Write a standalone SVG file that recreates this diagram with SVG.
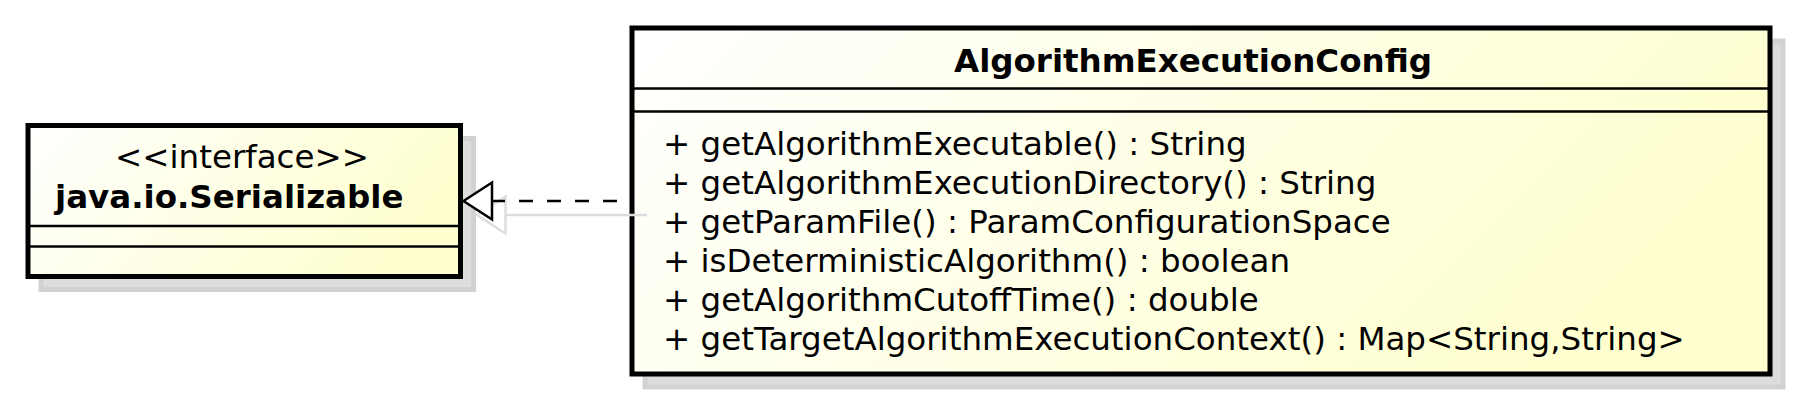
<svg xmlns="http://www.w3.org/2000/svg" width="1797" height="402" viewBox="0 0 1797 402">
<style>
  .shadow { fill: #dddddd; stroke: #d2d2d2; stroke-width: 5; }
  .box { fill: url(#bg); stroke: #000; stroke-width: 5; }
  .sep { stroke: #000; stroke-width: 2.5; }
  text { font-family: "DejaVu Sans", "Liberation Sans", sans-serif; font-size: 32.5px; fill: #000; }
  .bold { font-weight: bold; }
  .mid { text-anchor: middle; }
  .dash { stroke: #000; stroke-width: 2.5; stroke-dasharray: 14 14; stroke-dashoffset: 14; fill: none; }
  .cshadow { stroke: #dddddd; stroke-width: 2.5; fill: none; }
</style>
<defs>
  <linearGradient id="bg" x1="0" y1="0" x2="1" y2="0.3">
    <stop offset="0" stop-color="#ffffff"/>
    <stop offset="1" stop-color="#ffffd0"/>
  </linearGradient>
</defs>
<rect width="1797" height="402" fill="#ffffff"/>
<g id="node-serializable">
  <rect class="shadow" x="41" y="138.5" width="432.5" height="151"/>
  <rect class="box" x="28" y="125.5" width="432.5" height="151"/>
  <text class="mid" x="242" y="168">&lt;&lt;interface&gt;&gt;</text>
  <text class="bold" x="55" y="208">java.io.Serializable</text>
  <line class="sep" x1="28" y1="226" x2="460.5" y2="226"/>
  <line class="sep" x1="28" y1="246.5" x2="460.5" y2="246.5"/>
</g>
<g id="node-algorithmexecutionconfig">
  <rect class="shadow" x="645" y="41" width="1138" height="346"/>
  <rect class="box" x="632" y="28" width="1138" height="346"/>
  <text class="bold mid" x="1193" y="72">AlgorithmExecutionConfig</text>
  <line class="sep" x1="632" y1="88.5" x2="1770" y2="88.5"/>
  <line class="sep" x1="632" y1="111.5" x2="1770" y2="111.5"/>
  <text x="663" y="155">+ getAlgorithmExecutable() : String</text>
  <text x="663" y="194">+ getAlgorithmExecutionDirectory() : String</text>
  <text x="663" y="233">+ getParamFile() : ParamConfigurationSpace</text>
  <text x="663" y="272">+ isDeterministicAlgorithm() : boolean</text>
  <text x="663" y="311">+ getAlgorithmCutoffTime() : double</text>
  <text x="663" y="350">+ getTargetAlgorithmExecutionContext() : Map&lt;String,String&gt;</text>
</g>
<g id="connectors">
  <g id="realization-shadow">
    <line class="cshadow" x1="505.5" y1="215" x2="647" y2="215"/>
    <polygon class="cshadow" points="477,215 505.5,196.5 505.5,233.5" fill="#ffffff"/>
  </g>
  <g id="realization">
    <line class="dash" x1="631" y1="201" x2="492" y2="201"/>
    <polygon points="463.5,201 492,182.5 492,219.5" fill="#ffffff" stroke="#000" stroke-width="2.5" stroke-linejoin="miter"/>
  </g>
</g>
</svg>
